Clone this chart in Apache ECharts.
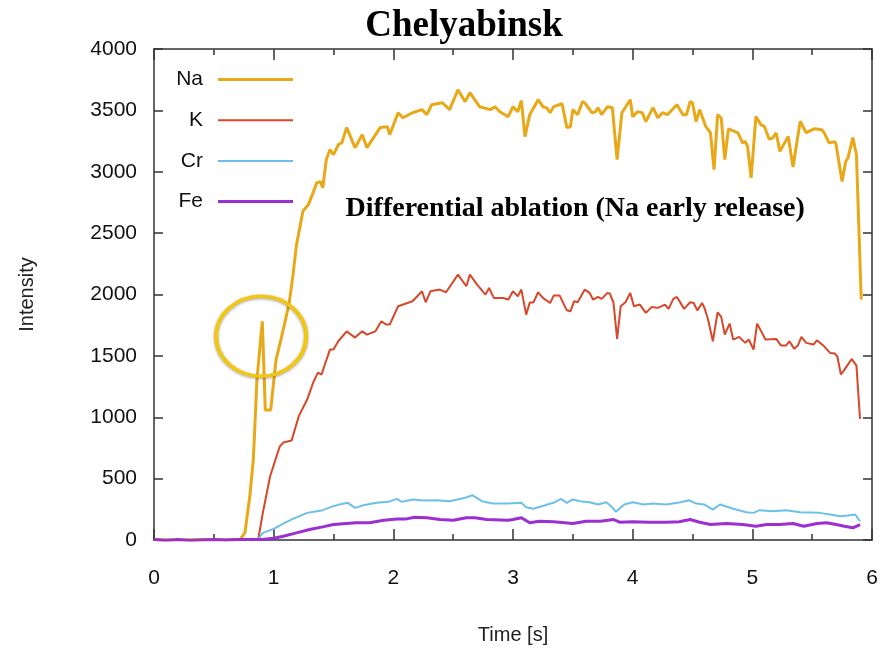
<!DOCTYPE html>
<html>
<head>
<meta charset="utf-8">
<script src="https://cdn.jsdelivr.net/npm/echarts@6/dist/echarts.min.js"></script>
<style>html,body{margin:0;padding:0;background:#fff}#c{width:884px;height:653px}</style>
</head>
<body>
<div id="c"></div>
<script>
const chartTitle = 'Chelyabinsk';
const annotation = 'Differential ablation (Na early release)';
const xTicks = [0, 1, 2, 3, 4, 5, 6];
const yTicks = [0, 500, 1000, 1500, 2000, 2500, 3000, 3500, 4000];

const naTime = [0,0.2,0.4,0.6,0.72,0.76,0.80,0.83,0.86,0.905,0.93,0.975,1.02,1.06,1.10,1.13,1.16,1.19,1.245,1.29,1.33,1.36,1.39,1.41,1.44,1.47,1.50,1.54,1.57,1.61,1.68,1.74,1.78,1.89,1.95,1.97,2.04,2.08,2.16,2.24,2.28,2.32,2.41,2.47,2.54,2.60,2.64,2.72,2.81,2.85,2.89,2.96,3.00,3.04,3.07,3.10,3.14,3.21,3.25,3.28,3.31,3.34,3.41,3.45,3.48,3.50,3.54,3.58,3.60,3.66,3.69,3.71,3.74,3.79,3.83,3.87,3.91,3.98,4.00,4.04,4.08,4.11,4.17,4.21,4.25,4.29,4.37,4.42,4.45,4.48,4.50,4.53,4.56,4.61,4.65,4.68,4.71,4.74,4.77,4.80,4.85,4.88,4.92,4.94,4.96,4.99,5.03,5.07,5.10,5.14,5.17,5.20,5.23,5.30,5.34,5.40,5.45,5.52,5.58,5.60,5.64,5.69,5.70,5.75,5.78,5.80,5.84,5.87,5.91];
const naVal = [5,0,5,0,5,60,350,655,1300,1782,1060,1060,1470,1630,1800,1934,2146,2400,2680,2732,2830,2910,2920,2870,3100,3180,3140,3220,3237,3360,3196,3302,3196,3360,3367,3302,3481,3440,3481,3506,3465,3546,3562,3506,3668,3571,3644,3530,3506,3530,3489,3449,3530,3489,3580,3286,3465,3587,3530,3522,3481,3530,3554,3360,3367,3506,3465,3571,3562,3481,3489,3522,3465,3530,3522,3099,3481,3587,3449,3489,3481,3408,3522,3440,3481,3465,3546,3465,3465,3571,3562,3408,3506,3370,3318,3017,3465,3438,3099,3349,3329,3316,3234,3248,3207,2950,3451,3384,3370,3267,3275,3316,3166,3288,3039,3411,3318,3351,3343,3318,3237,3245,3220,2920,3082,3115,3278,3139,1959];

const kTime = [0,0.3,0.6,0.87,0.91,0.97,1.01,1.05,1.08,1.15,1.21,1.28,1.33,1.37,1.40,1.47,1.50,1.54,1.61,1.68,1.74,1.78,1.85,1.90,1.94,1.97,2.04,2.16,2.24,2.27,2.31,2.39,2.44,2.54,2.61,2.64,2.70,2.77,2.80,2.84,2.92,2.96,3.00,3.04,3.07,3.11,3.14,3.17,3.21,3.25,3.31,3.34,3.39,3.45,3.48,3.51,3.54,3.60,3.64,3.67,3.71,3.74,3.79,3.81,3.84,3.87,3.90,3.94,3.98,4.01,4.06,4.11,4.16,4.21,4.27,4.30,4.34,4.37,4.43,4.48,4.51,4.54,4.58,4.60,4.63,4.67,4.71,4.74,4.77,4.81,4.84,4.89,4.94,4.97,5.01,5.04,5.11,5.20,5.24,5.28,5.31,5.35,5.38,5.41,5.45,5.51,5.54,5.60,5.65,5.69,5.71,5.74,5.77,5.83,5.87,5.90];
const kVal = [0,0,0,0,224,517,640,760,794,810,1009,1144,1282,1364,1348,1551,1551,1619,1700,1649,1700,1673,1700,1782,1755,1755,1904,1945,2026,1937,2026,2040,2018,2162,2067,2162,2081,1999,2053,1972,1972,1958,2026,1985,2040,1836,1934,1934,2018,1972,1931,1991,1991,1871,1863,1945,1937,2040,2013,1958,1980,1964,2013,2007,1931,1638,1904,1937,2013,1904,1918,1850,1899,1891,1918,1883,1964,1980,1883,1937,1931,1871,1931,1891,1796,1619,1855,1818,1673,1763,1633,1655,1606,1633,1551,1763,1633,1638,1584,1584,1619,1557,1584,1655,1606,1592,1627,1578,1524,1519,1497,1348,1388,1475,1421,987];

const crTime = [0,0.3,0.6,0.87,0.91,0.95,1.00,1.08,1.16,1.28,1.36,1.41,1.48,1.55,1.62,1.68,1.75,1.86,1.96,2.03,2.07,2.17,2.25,2.36,2.47,2.60,2.66,2.74,2.83,2.96,3.07,3.11,3.17,3.24,3.35,3.40,3.45,3.50,3.56,3.64,3.71,3.78,3.82,3.86,3.93,4.00,4.09,4.17,4.28,4.40,4.47,4.53,4.60,4.67,4.73,4.84,4.95,5.01,5.06,5.17,5.28,5.40,5.56,5.65,5.73,5.80,5.86,5.90];
const crVal = [0,0,0,5,58,72,91,134,172,221,234,243,270,289,303,262,283,303,311,335,311,330,322,324,316,344,365,316,297,297,303,267,254,275,308,335,303,330,316,308,289,308,275,230,289,308,289,297,289,308,324,297,289,248,289,254,226,221,243,234,243,226,221,208,194,200,208,153];

const feTime = [0,0.1,0.2,0.3,0.4,0.5,0.6,0.7,0.8,0.9,1.0,1.08,1.19,1.30,1.41,1.50,1.58,1.69,1.80,1.92,2.03,2.11,2.18,2.28,2.39,2.50,2.61,2.68,2.78,2.96,3.00,3.07,3.14,3.22,3.34,3.50,3.61,3.73,3.84,3.89,4.00,4.14,4.28,4.39,4.48,4.56,4.65,4.78,4.92,5.03,5.12,5.23,5.34,5.43,5.54,5.62,5.70,5.77,5.84,5.90];
const feVal = [5,-5,5,-5,0,5,0,5,5,5,15,31,58,85,107,126,132,140,140,161,172,172,186,181,167,161,181,181,167,161,167,181,140,153,148,134,153,153,167,145,148,145,145,148,167,145,126,134,126,112,126,126,134,112,134,140,126,112,99,126];

const seriesDefs = [
  {name: 'Na', time: naTime, val: naVal, color: '#E8A817', width: 3},
  {name: 'K', time: kTime, val: kVal, color: '#D7472A', width: 2},
  {name: 'Cr', time: crTime, val: crVal, color: '#6DC0E6', width: 2},
  {name: 'Fe', time: feTime, val: feVal, color: '#9B2FD2', width: 3}
];

const SANS = '"Liberation Sans", Arial, Helvetica, sans-serif';
const SERIF = '"Liberation Serif", "Times New Roman", serif';
const axisCol = '#333333';

const chart = echarts.init(document.getElementById('c'), null, {renderer: 'canvas'});

const legends = seriesDefs.map((s, i) => ({
  data: [s.name],
  right: 591,
  top: 69 + i * 40.7,
  align: 'right',
  orient: 'vertical',
  icon: 'rect',
  itemWidth: 75,
  itemHeight: s.width,
  itemGap: 0,
  padding: 0,
  textStyle: {fontFamily: SANS, fontSize: 21, color: '#111', padding: [0, 10, 0, 0]},
  selectedMode: false
}));

const tickLine = {color: axisCol, width: 1.5};
const plainNum = v => String(v);

const option = {
  animation: false,
  backgroundColor: '#ffffff',
  title: {
    text: chartTitle,
    left: 459, top: 3, textAlign: 'center',
    textStyle: {fontFamily: SERIF, fontWeight: 'bold', fontSize: 37, color: '#000'}
  },
  legend: legends,
  grid: {left: 154, right: 12, top: 49, bottom: 113, containLabel: false},
  xAxis: [{
    type: 'value', min: 0, max: 6, interval: 1,
    name: 'Time [s]', nameLocation: 'middle', nameGap: 85,
    nameTextStyle: {fontFamily: SANS, fontSize: 20, color: '#222'},
    axisLine: {show: true, onZero: false, lineStyle: tickLine},
    axisTick: {show: true, inside: true, length: 11, lineStyle: tickLine},
    minorTick: {show: true, splitNumber: 2, length: 6, lineStyle: tickLine},
    axisLabel: {fontFamily: SANS, fontSize: 21, color: '#111', margin: 28, formatter: plainNum},
    splitLine: {show: false}
  }, {
    type: 'value', min: 0, max: 6, interval: 1, position: 'top',
    axisLine: {show: true, onZero: false, lineStyle: tickLine},
    axisTick: {show: true, inside: true, length: 11, lineStyle: tickLine},
    minorTick: {show: true, splitNumber: 2, length: 6, lineStyle: tickLine},
    axisLabel: {show: false},
    splitLine: {show: false}
  }],
  yAxis: [{
    type: 'value', min: 0, max: 4000, interval: 500,
    name: 'Intensity', nameLocation: 'middle', nameGap: 117,
    nameTextStyle: {fontFamily: SANS, fontSize: 20, color: '#222'},
    axisLine: {show: true, onZero: false, lineStyle: tickLine},
    axisTick: {show: true, inside: true, length: 9, lineStyle: tickLine},
    axisLabel: {fontFamily: SANS, fontSize: 21, color: '#111', margin: 17, formatter: plainNum},
    splitLine: {show: false}
  }, {
    type: 'value', min: 0, max: 4000, interval: 500, position: 'right',
    axisLine: {show: true, onZero: false, lineStyle: tickLine},
    axisTick: {show: true, inside: true, length: 9, lineStyle: tickLine},
    axisLabel: {show: false},
    splitLine: {show: false}
  }],
  series: seriesDefs.map(s => ({
    name: s.name,
    type: 'line',
    data: s.time.map((t, i) => [t, s.val[i]]),
    showSymbol: false,
    symbol: 'none',
    lineStyle: {color: s.color, width: s.width},
    itemStyle: {color: s.color},
    z: 2
  }))
};
chart.setOption(option);

// annotation text and highlight ring, positioned in data coordinates
const ringCenter = chart.convertToPixel({xAxisIndex: 0, yAxisIndex: 0}, [0.895, 1660]);
const textPos = chart.convertToPixel({xAxisIndex: 0, yAxisIndex: 0}, [3.52, 2700]);
chart.setOption({
  graphic: [
    {
      type: 'circle',
      x: ringCenter[0], y: ringCenter[1],
      scaleY: 0.89,
      shape: {cx: 0, cy: 0, r: 45},
      style: {fill: 'none', stroke: '#F2C614', lineWidth: 4, shadowBlur: 3, shadowColor: 'rgba(0,0,0,0.35)', shadowOffsetY: 1},
      z: 10
    },
    {
      type: 'text',
      x: textPos[0], y: textPos[1],
      style: {
        text: annotation,
        fontFamily: SERIF, fontWeight: 'bold', fontSize: 28, fill: '#000',
        textAlign: 'center', textVerticalAlign: 'middle'
      },
      z: 10
    }
  ]
});
</script>
</body>
</html>
